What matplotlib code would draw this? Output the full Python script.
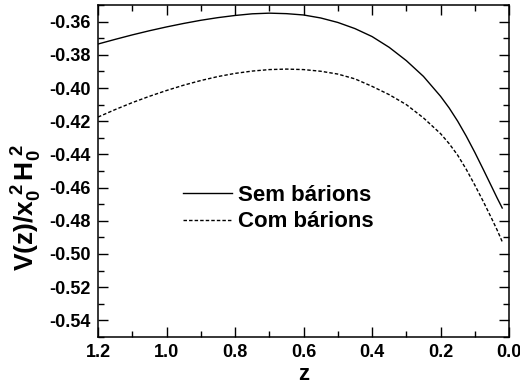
import matplotlib
matplotlib.use("Agg")
import matplotlib.pyplot as plt
from matplotlib.ticker import MultipleLocator, FormatStrFormatter

# -----------------------------
# Data: V(z)/x0^2 H0^2 versus redshift
# -----------------------------
z_vals = [1.2, 1.15, 1.1, 1.05, 1.0, 0.95, 0.9, 0.85, 0.8, 0.75, 0.7, 0.65,
          0.6, 0.55, 0.5, 0.45, 0.4, 0.35, 0.3, 0.25, 0.2, 0.175, 0.15,
          0.125, 0.1, 0.075, 0.05, 0.035, 0.02]

sem_barions = [-0.3735, -0.3707, -0.3680, -0.3655, -0.3632, -0.3611, -0.3592,
               -0.3576, -0.3563, -0.3553, -0.3549, -0.3552, -0.3560, -0.3578,
               -0.3605, -0.3642, -0.3690, -0.3755, -0.3835, -0.3930, -0.4050,
               -0.4120, -0.4200, -0.4290, -0.4388, -0.4492, -0.4598, -0.4662,
               -0.4723]

com_barions = [-0.4175, -0.4130, -0.4088, -0.4050, -0.4015, -0.3983, -0.3955,
               -0.3931, -0.3912, -0.3898, -0.3889, -0.3886, -0.3889, -0.3899,
               -0.3916, -0.3945, -0.3990, -0.4040, -0.4100, -0.4180, -0.4275,
               -0.4335, -0.4405, -0.4490, -0.4585, -0.4685, -0.4790, -0.4855,
               -0.4926]

labels = ["Sem bárions", "Com bárions"]

# -----------------------------
# Style
# -----------------------------
plt.rcParams["font.family"] = ["Liberation Sans", "DejaVu Sans"]
plt.rcParams["font.weight"] = "bold"
plt.rcParams["mathtext.fontset"] = "custom"
plt.rcParams["mathtext.rm"] = "Liberation Sans:bold"
plt.rcParams["mathtext.bf"] = "Liberation Sans:bold"
plt.rcParams["mathtext.it"] = "Liberation Sans:bold"

fig = plt.figure(figsize=(5.2, 3.86), dpi=100)
ax = fig.add_axes([0.1885, 0.127, 0.7905, 0.860])

ax.plot(z_vals, sem_barions, color="black", lw=1.0, ls="-", label=labels[0])
ax.plot(z_vals, com_barions, color="black", lw=1.0, ls=(0, (2.5, 1.5)), label=labels[1])

ax.set_xlim(1.2, 0.0)
ax.set_ylim(-0.55, -0.35)

ax.xaxis.set_major_locator(MultipleLocator(0.2))
ax.xaxis.set_minor_locator(MultipleLocator(0.1))
ax.yaxis.set_major_locator(MultipleLocator(0.02))
ax.yaxis.set_minor_locator(MultipleLocator(0.01))
ax.xaxis.set_major_formatter(FormatStrFormatter("%.1f"))
ax.yaxis.set_major_formatter(FormatStrFormatter("%.2f"))

ax.tick_params(which="both", direction="in", top=True, right=True, width=1.0)
ax.tick_params(which="major", length=7, labelsize=13, pad=5)
ax.tick_params(which="minor", length=4)
for lab in ax.get_xticklabels() + ax.get_yticklabels():
    lab.set_fontweight("bold")

for sp in ax.spines.values():
    sp.set_linewidth(1.1)

ax.set_xlabel("z", fontsize=16, fontweight="bold", labelpad=2)
ax.set_ylabel(r"$\mathbf{V(z)/x_0^{\,\,2}\,H_0^{\,\,2}}$", fontsize=19)
ax.yaxis.set_label_coords(-0.132, 0.39)

ax.legend(loc="upper left", bbox_to_anchor=(0.18, 0.492), frameon=False,
          handlelength=2.2, handletextpad=0.25, labelspacing=0.25,
          borderpad=0, prop={"weight": "bold", "size": 16})

fig.savefig("out.png", dpi=100)
